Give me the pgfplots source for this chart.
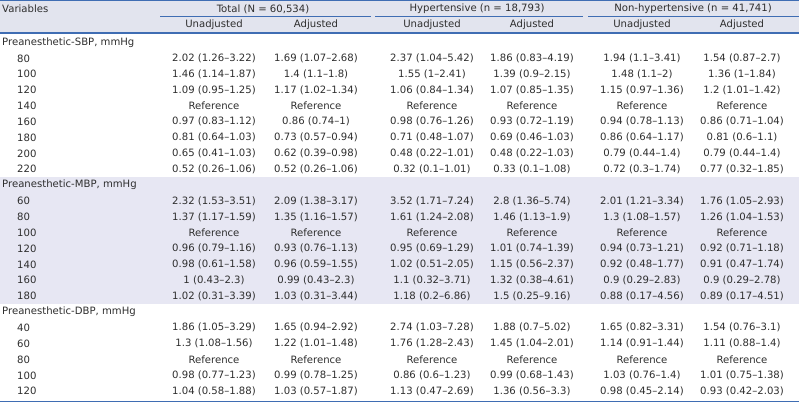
\documentclass[border=0pt]{standalone}
\usepackage{pgfplots}
\pgfplotsset{compat=1.18}
\usepackage{pgfplotstable}
\usepackage{fontspec}
\setmainfont{DejaVu Sans}
\definecolor{txt}{HTML}{2E2E2E}
\definecolor{rule}{HTML}{3F6DB3}
\definecolor{headbg}{HTML}{E2E4EE}
\definecolor{bandbg}{HTML}{E7E7F3}

\pgfplotstableread[col sep=semicolon]{
r;var;tu;ta;hu;ha;nu;na
1;80;2.02 (1.26–3.22);1.69 (1.07–2.68);2.37 (1.04–5.42);1.86 (0.83–4.19);1.94 (1.1–3.41);1.54 (0.87–2.7)
2;100;1.46 (1.14–1.87);1.4 (1.1–1.8);1.55 (1–2.41);1.39 (0.9–2.15);1.48 (1.1–2);1.36 (1–1.84)
3;120;1.09 (0.95–1.25);1.17 (1.02–1.34);1.06 (0.84–1.34);1.07 (0.85–1.35);1.15 (0.97–1.36);1.2 (1.01–1.42)
4;140;Reference;Reference;Reference;Reference;Reference;Reference
5;160;0.97 (0.83–1.12);0.86 (0.74–1);0.98 (0.76–1.26);0.93 (0.72–1.19);0.94 (0.78–1.13);0.86 (0.71–1.04)
6;180;0.81 (0.64–1.03);0.73 (0.57–0.94);0.71 (0.48–1.07);0.69 (0.46–1.03);0.86 (0.64–1.17);0.81 (0.6–1.1)
7;200;0.65 (0.41–1.03);0.62 (0.39–0.98);0.48 (0.22–1.01);0.48 (0.22–1.03);0.79 (0.44–1.4);0.79 (0.44–1.4)
8;220;0.52 (0.26–1.06);0.52 (0.26–1.06);0.32 (0.1–1.01);0.33 (0.1–1.08);0.72 (0.3–1.74);0.77 (0.32–1.85)
10;60;2.32 (1.53–3.51);2.09 (1.38–3.17);3.52 (1.71–7.24);2.8 (1.36–5.74);2.01 (1.21–3.34);1.76 (1.05–2.93)
11;80;1.37 (1.17–1.59);1.35 (1.16–1.57);1.61 (1.24–2.08);1.46 (1.13–1.9);1.3 (1.08–1.57);1.26 (1.04–1.53)
12;100;Reference;Reference;Reference;Reference;Reference;Reference
13;120;0.96 (0.79–1.16);0.93 (0.76–1.13);0.95 (0.69–1.29);1.01 (0.74–1.39);0.94 (0.73–1.21);0.92 (0.71–1.18)
14;140;0.98 (0.61–1.58);0.96 (0.59–1.55);1.02 (0.51–2.05);1.15 (0.56–2.37);0.92 (0.48–1.77);0.91 (0.47–1.74)
15;160;1 (0.43–2.3);0.99 (0.43–2.3);1.1 (0.32–3.71);1.32 (0.38–4.61);0.9 (0.29–2.83);0.9 (0.29–2.78)
16;180;1.02 (0.31–3.39);1.03 (0.31–3.44);1.18 (0.2–6.86);1.5 (0.25–9.16);0.88 (0.17–4.56);0.89 (0.17–4.51)
18;40;1.86 (1.05–3.29);1.65 (0.94–2.92);2.74 (1.03–7.28);1.88 (0.7–5.02);1.65 (0.82–3.31);1.54 (0.76–3.1)
19;60;1.3 (1.08–1.56);1.22 (1.01–1.48);1.76 (1.28–2.43);1.45 (1.04–2.01);1.14 (0.91–1.44);1.11 (0.88–1.4)
20;80;Reference;Reference;Reference;Reference;Reference;Reference
21;100;0.98 (0.77–1.23);0.99 (0.78–1.25);0.86 (0.6–1.23);0.99 (0.68–1.43);1.03 (0.76–1.4);1.01 (0.75–1.38)
22;120;1.04 (0.58–1.88);1.03 (0.57–1.87);1.13 (0.47–2.69);1.36 (0.56–3.3);0.98 (0.45–2.14);0.93 (0.42–2.03)
}\vals

\pgfplotstableread[col sep=semicolon]{
r;label
0;Preanesthetic-SBP, mmHg
9;Preanesthetic-MBP, mmHg
17;Preanesthetic-DBP, mmHg
}\sections

\pgfplotstableread[col sep=semicolon]{
x;y;label
263;9;Total (N = 60,534)
477;9;Hypertensive (n = 18,793)
693;9;Non-hypertensive (n = 41,741)
214;25;Unadjusted
316;25;Adjusted
432;25;Unadjusted
532;25;Adjusted
642;25;Unadjusted
742;25;Adjusted
}\heads

\newcommand{\ry}{42.5+\thisrow{r}*15.85}

\begin{document}
\begin{tikzpicture}
\begin{axis}[
  width=799bp, height=403bp, scale only axis,
  xmin=0, xmax=799, ymin=0, ymax=403, y dir=reverse,
  hide axis, clip=false,
  every node near coord/.style={anchor=center, inner sep=0pt, text=txt,
     font=\fontsize{10.1bp}{12bp}\selectfont},
]
% backgrounds
\addplot[fill=headbg, draw=none] coordinates {(0,0) (799,0) (799,33) (0,33)} -- cycle;
\addplot[fill=bandbg, draw=none] coordinates {(0,177) (799,177) (799,304) (0,304)} -- cycle;
% rules
\addplot[rule, line width=1.3bp] coordinates {(0,0.7) (799,0.7)};
\addplot[rule, line width=1.3bp] coordinates {(160,16.5) (371,16.5)};
\addplot[rule, line width=1.3bp] coordinates {(375,16.5) (583,16.5)};
\addplot[rule, line width=1.3bp] coordinates {(588,16.5) (799,16.5)};
\addplot[rule, line width=1.8bp] coordinates {(0,33) (799,33)};
\addplot[rule, line width=1.8bp] coordinates {(0,401.5) (799,401.5)};
% header texts
\addplot[draw=none, mark=none, nodes near coords, point meta=explicit symbolic,
  every node near coord/.append style={anchor=west}]
  coordinates {(2,9) [Variables]};
\addplot[draw=none, mark=none, nodes near coords, point meta=explicit symbolic]
  table[x=x, y=y, meta=label] {\heads};
% section labels
\addplot[draw=none, mark=none, nodes near coords, point meta=explicit symbolic,
  every node near coord/.append style={anchor=west}]
  table[x expr=2, y expr=\ry, meta=label] {\sections};
% row labels
\addplot[draw=none, mark=none, nodes near coords, point meta=explicit symbolic,
  every node near coord/.append style={anchor=west}]
  table[x expr=17, y expr=\ry, meta=var] {\vals};
% values
\addplot[draw=none, mark=none, nodes near coords, point meta=explicit symbolic]
  table[x expr=214, y expr=\ry, meta=tu] {\vals};
\addplot[draw=none, mark=none, nodes near coords, point meta=explicit symbolic]
  table[x expr=316, y expr=\ry, meta=ta] {\vals};
\addplot[draw=none, mark=none, nodes near coords, point meta=explicit symbolic]
  table[x expr=432, y expr=\ry, meta=hu] {\vals};
\addplot[draw=none, mark=none, nodes near coords, point meta=explicit symbolic]
  table[x expr=532, y expr=\ry, meta=ha] {\vals};
\addplot[draw=none, mark=none, nodes near coords, point meta=explicit symbolic]
  table[x expr=642, y expr=\ry, meta=nu] {\vals};
\addplot[draw=none, mark=none, nodes near coords, point meta=explicit symbolic]
  table[x expr=742, y expr=\ry, meta=na] {\vals};
\end{axis}
\pgfresetboundingbox
\path[use as bounding box] (0,0) rectangle (799bp,403bp);
\end{tikzpicture}
\end{document}
